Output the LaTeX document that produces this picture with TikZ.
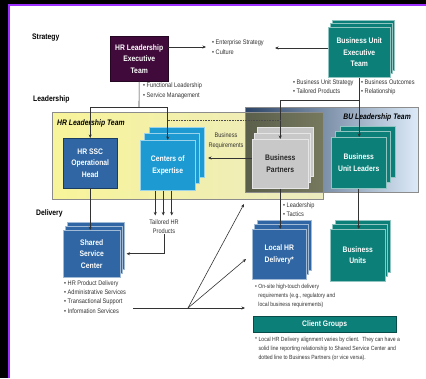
\documentclass[tikz,border=0pt]{standalone}
\usepackage{fontspec}
\setmainfont[FakeStretch=0.85]{Liberation Sans}
\usetikzlibrary{arrows.meta,calc}
\definecolor{plum}{HTML}{400B3A}
\definecolor{hrblue}{HTML}{2F66A3}
\definecolor{coe}{HTML}{1D9AD2}
\definecolor{tealc}{HTML}{0B7F78}
\definecolor{bpgray}{HTML}{C8C8C8}
\definecolor{purp}{HTML}{9B30FF}
\definecolor{lyel}{HTML}{F8F49A}
\definecolor{ryel}{HTML}{ECEBC0}
\definecolor{dnavy}{HTML}{2C4466}
\definecolor{lblue}{HTML}{DCEAF8}
\definecolor{olivel}{HTML}{5A5F4B}
\definecolor{oliver}{HTML}{77795E}
\tikzset{
  box/.style={anchor=north west, inner sep=0pt, align=center,
    font=\bfseries\fontsize{8}{11.5}\selectfont, text=white},
  bul/.style={anchor=north west, inner sep=0pt, align=left,
    font=\fontsize{6.6}{9.2}\selectfont, text=black!80},
  sml/.style={anchor=north west, inner sep=0pt, align=left,
    font=\fontsize{6}{9.4}\selectfont, text=black!80},
  lbl/.style={anchor=west, inner sep=0pt, font=\bfseries\fontsize{8}{9}\selectfont},
  ttl/.style={anchor=west, inner sep=0pt, font=\bfseries\itshape\fontsize{8}{9}\selectfont},
  ln/.style={draw=black!80, line width=0.6pt},
  arr/.style={ln, -{Stealth[length=3.5pt,width=3pt]}},
  region/.style={draw=black!45, line width=0.6pt},
}
% name, x, y, w, h, colour, dx, dy, text
\newcommand\stk[9]{%
  \fill[#6, draw=#6!45!white, line width=0.5pt] ({#2+2*(#7)},{#3-2*(#8)}) rectangle ++(#4,#5);
  \fill[#6, draw=#6!45!white, line width=0.5pt] ({#2+#7},{#3-#8}) rectangle ++(#4,#5);
  \node[box, fill=#6, draw=#6!45!white, line width=0.5pt, minimum width=#4pt, minimum height=#5pt] (#1) at (#2,#3) {#9};
}
\begin{document}
\begin{tikzpicture}[x=1pt,y=-1pt]
\useasboundingbox (0,0) rectangle (426,378);
% frame
\fill[black] (0,0) rectangle (426,378);
\fill[white] (9,5) rectangle (426,378);
\draw[purp, line width=1.3pt] (9,378) -- (9,5) -- (426,5);

% level labels
\node[lbl] (lstr) at (32,38) {Strategy};
\node[lbl] (llead) at (33,99) {Leadership};
\node[lbl] (ldel) at (36,213) {Delivery};

% regions
\shade[region, left color=dnavy, right color=lblue] (245,107) rectangle (418,192);
\shade[region, left color=lyel, right color=ryel] (52,112) rectangle (323,199);
\shade[left color=olivel, right color=oliver] (245,112) rectangle (323,192);
\draw[black!45, line width=0.6pt] (245,112) -- (245,192) -- (323,192);
\draw[black!45, line width=0.6pt] (52,112) rectangle (323,199);
\node[ttl] (hrlt) at (57,123) {HR Leadership Team};
\node[ttl, anchor=east] (bult) at (411,117) {BU Leadership Team};

% strategy boxes
\node[box, fill=plum, draw=plum!60!black, minimum width=58pt, minimum height=45pt] (hrx) at (110,36) {HR Leadership\\Executive\\Team};
\stk{bux}{328}{27}{62}{50}{tealc}{2}{3.5}{Business Unit\\Executive\\Team}

% leadership boxes
\node[box, fill=hrblue, draw=hrblue!60!black, minimum width=54pt, minimum height=50pt] (hrssc) at (63,138) {HR SSC\\Operational\\Head};
\stk{coe}{140}{140}{55}{50}{coe}{4.5}{6.5}{Centers of\\Expertise}
\begin{scope}[box/.append style={text=black!85}]
\stk{bp}{252}{139}{56}{49}{bpgray}{2.5}{6}{Business\\Partners}
\end{scope}
\stk{bul}{331}{137}{55}{51}{tealc}{4.5}{5.5}{Business\\Unit Leaders}

% delivery boxes
\stk{ssc}{63}{230}{57}{47}{hrblue}{2}{4}{Shared\\Service\\Center}
\stk{lhr}{252}{229}{54}{50}{hrblue}{2.5}{4.5}{Local HR\\Delivery*}
\stk{bu}{330}{229}{55}{52}{tealc}{2.5}{4.5}{Business\\Units}
\node[box, fill=tealc, draw=tealc!60!black, minimum width=143pt, minimum height=16pt] (cg) at (253,316) {Client Groups};

% texts
\node[bul] (t1) at (212,40) {• Enterprise Strategy\\• Culture};
\node[bul] (t2) at (143,83) {• Functional Leadership\\• Service Management};
\node[bul] (t3) at (293,79.5) {• Business Unit Strategy\\• Tailored Products};
\node[bul] (t4) at (361,79.5) {• Business Outcomes\\• Relationship};
\node[bul, align=center, anchor=north] (breq) at (226,133) {Business\\Requirements};
\node[bul] (t5) at (283,202.5) {• Leadership\\• Tactics};
\node[bul, align=center, anchor=north] (thp) at (164,219.5) {Tailored HR\\Products};
\node[bul] (t6) at (64,280.5) {• HR Product Delivery\\• Administrative Services\\• Transactional Support\\• Information Services};
\node[sml] (t7) at (255,283.5) {• On-site high-touch delivery\\\phantom{• }requirements (e.g., regulatory and\\\phantom{• }local business requirements)};
\node[sml] (t8) at (255,336.5) {* Local HR Delivery alignment varies by client.\ \ They can have a\\\phantom{* }solid line reporting relationship to Shared Service Center and\\\phantom{* }dotted line to Business Partners (or vice versa).};

% connectors: strategy
\coordinate (es) at (206,47);
\coordinate (bs) at (275,48);
\draw[arr] (hrx.east |- es) -- (es);
\draw[arr] (bux.west |- bs) -- (bs);

\coordinate (j1) at (139,107);
\draw[ln] (hrx.south) -- (j1);
\draw[arr] (j1) -| (hrssc.north);
\draw[arr] (j1) -| (coe.north);

\coordinate (j2) at (359,100);
\draw[arr] (bux.south) -- (bux.south |- bul.north);
\draw[arr] (j2) -| (bp.north);

\coordinate (dl) at (0,120);
\draw[black!70, line width=0.6pt, densely dotted] (coe.north |- dl) -- (bp.north |- dl);

% business requirements
\coordinate (brl) at (208,158);
\draw[arr, {Stealth[length=3.5pt,width=3pt]}-] (brl) -- (bp.west |- brl);

% tailored HR products
\draw[arr] ($(coe.south)+(-12.5,0)$) -- ++(0,25);
\draw[arr] ($(coe.south)+(-4.5,0)$) -- ++(0,25);
\draw[arr] ($(coe.south)+(4,0)$) -- ++(0,25);
\draw[arr] (thp.south) |- ($(ssc.east)+(6,0)$);

% vertical delivery
\draw[arr] (hrssc.south) -- (hrssc.south |- ssc.north);
\draw[arr] (bp.south) -- (bp.south |- lhr.north);
\draw[arr] (bul.south) -- (bul.south |- bu.north);

% fan
\coordinate (fl) at (133,308);
\coordinate (f0) at (188,308);
\coordinate (fe) at (245,308);
\coordinate (fa) at (244,204);
\coordinate (fb) at (246,259);
\draw[arr] (fl) -- (fe);
\draw[arr] (f0) -- (fa);
\draw[arr] (f0) -- (fb);
\end{tikzpicture}
\end{document}
